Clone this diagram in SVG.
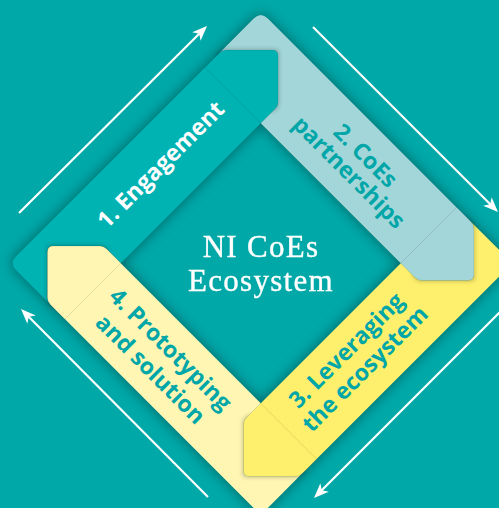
<svg xmlns="http://www.w3.org/2000/svg" width="499" height="508" viewBox="0 0 499 508">
<defs>
<style>
.lbl{font-family:"Open Sans","DejaVu Sans","Liberation Sans",sans-serif;font-weight:700;font-size:23px;text-anchor:middle}
.dark{fill:#00A6A8}
.light{fill:#ffffff}
.title{font-family:"Liberation Serif","DejaVu Serif",serif;font-size:31px;fill:#ffffff;stroke:#ffffff;stroke-width:0.35;text-anchor:middle;letter-spacing:1.3px}
.arrow{stroke:#ffffff;stroke-width:2.2;fill:none;marker-end:url(#ah)}
.seam{stroke:#000000;stroke-opacity:0.14;stroke-width:0.7}
</style>
<path id="band" d="M-178,-119.5 L-178,-168 Q-178,-178 -168,-178 L119.5,-178 Q123.5,-178 126.33,-175.17 L158.76,-142.74 Q163,-138.5 158.76,-134.26 L126.33,-101.83 Q123.5,-99 119.5,-99 L-99,-99 L-99,-119.5 Q-99,-123.5 -101.83,-126.33 L-134.26,-158.76 Q-138.5,-163 -142.74,-158.76 L-175.17,-126.33 Q-178,-123.5 -178,-119.5 Z"/>
<path id="tip" d="M99,-178 L119.5,-178 Q123.5,-178 126.33,-175.17 L158.76,-142.74 Q163,-138.5 158.76,-134.26 L126.33,-101.83 Q123.5,-99 119.5,-99 L99,-99 Z"/>
<path id="tipcore" d="M115,-178 L123.5,-178 L163,-138.5 L123.5,-99 L115,-99 Z"/>
<filter id="ringShadow" x="-15%" y="-15%" width="130%" height="130%"><feGaussianBlur stdDeviation="7"/></filter>
<filter id="tipShadow" x="-20%" y="-20%" width="140%" height="140%"><feGaussianBlur stdDeviation="2.5"/></filter>
<marker id="ah" markerUnits="userSpaceOnUse" viewBox="0 0 16 14" markerWidth="16" markerHeight="14" refX="9" refY="7" orient="auto">
<path d="M0,1 L15,7 L0,13 L4,7 Z" fill="#ffffff"/>
</marker>
<mask id="notTips" maskUnits="userSpaceOnUse" x="0" y="0" width="499" height="508">
<rect x="0" y="0" width="499" height="508" fill="#ffffff"/>
<g transform="matrix(0.70711,-0.70711,0.70711,0.70711,260.75,263.25)" fill="#000000">
<use href="#tip"/>
<use href="#tip" transform="rotate(90)"/>
<use href="#tip" transform="rotate(180)"/>
<use href="#tip" transform="rotate(270)"/>
</g>
</mask>
</defs>

<rect x="0" y="0" width="499" height="508" fill="#00A8A8"/>

<g id="ring-shadow" filter="url(#ringShadow)" opacity="0.42">
<path transform="matrix(0.70711,-0.70711,0.70711,0.70711,260.75,263.25)" fill="#000000" fill-rule="evenodd" d="M-168,-178 H168 Q178,-178 178,-168 V168 Q178,178 168,178 H-168 Q-178,178 -178,168 V-168 Q-178,-178 -168,-178 Z M-99,-99 H99 V99 H-99 Z"/>
</g>

<g id="band-1" transform="matrix(0.70711,-0.70711,0.70711,0.70711,260.75,263.25)">
<use href="#band" fill="#00B3B3"/>
<use href="#tip" fill="#00B3B3" class="seam"/>
<text class="lbl light" x="-1" y="-132.5">1. Engagement</text>
</g>

<g id="band-2" transform="matrix(0.70711,-0.70711,0.70711,0.70711,260.75,263.25)">
<g transform="rotate(90)">
<use href="#band" fill="#A2D6D8"/>
<use href="#tip" fill="#A2D6D8" class="seam"/>
<text class="lbl dark" x="-2" y="-142.3">2. CoEs</text>
<text class="lbl dark" x="-2" y="-118.8">partnerships</text>
</g>
</g>

<g id="band-3" transform="matrix(0.70711,-0.70711,0.70711,0.70711,260.75,263.25)">
<g transform="rotate(180)">
<use href="#band" fill="#FEF06C"/>
<use href="#tip" fill="#FEF06C" class="seam"/>
</g>
<text class="lbl dark" x="-1" y="130.1">3. Leveraging</text>
<text class="lbl dark" x="-1" y="156.3">the ecosystem</text>
</g>

<g id="band-4" transform="matrix(0.70711,-0.70711,0.70711,0.70711,260.75,263.25)">
<g transform="rotate(270)">
<use href="#band" fill="#FFF6B3"/>
<use href="#tip" fill="#FFF6B3" class="seam"/>
</g>
<g transform="rotate(90)">
<text class="lbl dark" x="-3" y="132.6">4. Prototyping</text>
<text class="lbl dark" x="-3" y="160.8">and solution</text>
</g>
</g>

<g id="tip-shadows" mask="url(#notTips)">
<g filter="url(#tipShadow)" opacity="0.3">
<g transform="matrix(0.70711,-0.70711,0.70711,0.70711,260.75,263.25)" fill="#000000">
<use href="#tipcore"/>
<use href="#tipcore" transform="rotate(90)"/>
<use href="#tipcore" transform="rotate(180)"/>
<use href="#tipcore" transform="rotate(270)"/>
</g>
</g>
</g>

<g id="center">
<text class="title" x="261" y="257">NI CoEs</text>
<text class="title" x="261" y="291">Ecosystem</text>
</g>

<g id="connectors">
<line class="arrow" x1="19" y1="213" x2="202.75" y2="30.23"/>
<line class="arrow" x1="313" y1="27" x2="493.76" y2="207.76"/>
<line class="arrow" x1="502" y1="310" x2="318.24" y2="493.76"/>
<line class="arrow" x1="208" y1="497" x2="25.23" y2="313.25"/>
</g>
</svg>
